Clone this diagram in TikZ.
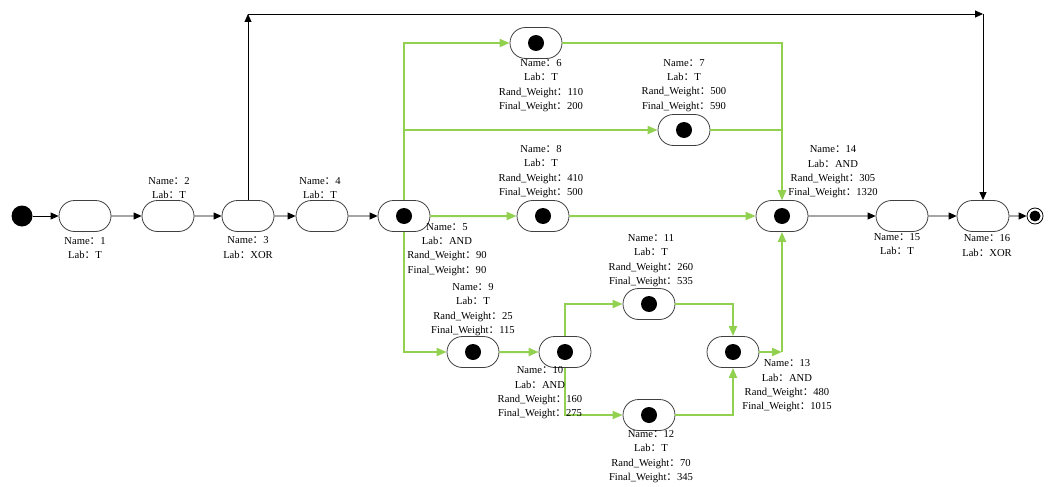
\documentclass[tikz,border=0pt]{standalone}
\usepackage{fontspec}
\setmainfont{Liberation Serif}
\newfontfamily\cjk{Noto Sans CJK SC}
\usetikzlibrary{shapes.misc,arrows.meta}
\newcommand\cc{{\cjk ：}}
\definecolor{lgreen}{RGB}{146,208,80}
\begin{document}
\begin{tikzpicture}[x=1pt,y=-1pt,
  pill/.style={rounded rectangle, draw=black!75, line width=0.8pt, minimum width=52pt, minimum height=31pt, inner sep=0pt, fill=white},
  dotpill/.style={pill, path picture={\fill[black] (path picture bounding box.center) circle (8pt);}},
  lbl/.style={font=\fontsize{10.6}{14.3}\selectfont, align=center, inner sep=0pt},
  blk/.style={-{Triangle[length=8pt,width=7pt]}, line width=0.8pt, draw=black},
  grn/.style={-{Triangle[length=10pt,width=8pt]}, line width=2pt, draw=lgreen}]
\useasboundingbox (0,0) rectangle (1057,487);
% nodes
\node[circle, fill=black, minimum size=21pt, inner sep=0pt] (s) at (22,216) {};
\node[pill] (n1) at (85,216) {};
\node[pill] (n2) at (168,216) {};
\node[pill] (n3) at (248,216) {};
\node[pill] (n4) at (322,216) {};
\node[dotpill] (n5) at (404,216) {};
\node[dotpill] (n6) at (536,43) {};
\node[dotpill] (n7) at (684,130) {};
\node[dotpill] (n8) at (543,216) {};
\node[dotpill] (n9) at (473,352) {};
\node[dotpill] (n10) at (565,352) {};
\node[dotpill] (n11) at (649,304) {};
\node[dotpill] (n12) at (649,415) {};
\node[dotpill] (n13) at (733,352) {};
\node[dotpill] (n14) at (782,216) {};
\node[pill] (n15) at (902,216) {};
\node[pill] (n16) at (983,216) {};
\node[circle, draw=black, line width=0.8pt, minimum size=16pt, inner sep=0pt,
  path picture={\fill[black] (path picture bounding box.center) circle (5.5pt);}] (e) at (1035,216) {};
% black connectors
\draw[blk] (s) -- (n1);
\draw[blk] (n1) -- (n2);
\draw[blk] (n2) -- (n3);
\draw[blk] (n3) -- (n4);
\draw[blk] (n4) -- (n5);
\coordinate (c1) at (248,14);
\coordinate (c2) at (983,14);
\draw[blk] (n3.north) -- (c1);
\draw[blk] (c1) -- (c2);
\draw[blk] (c2) -- (n16.north);
\draw[blk] (n14) -- (n15);
\draw[blk] (n15) -- (n16);
\draw[blk] (n16) -- (e);
% green connectors
\draw[grn] (n5) -- (n8);
\draw[grn] (n5.north) |- (n6.west);
\draw[grn] (n5.north) |- (n7.west);
\draw[grn] (n6.east) -| (n14.north);
\draw[grn] (n7.east) -| (n14.north);
\draw[grn] (n8) -- (n14);
\draw[grn] (n5.south) |- (n9.west);
\draw[grn] (n9) -- (n10);
\draw[grn] (n10.north) |- (n11.west);
\draw[grn] (n10.south) |- (n12.west);
\draw[grn] (n11.east) -| (n13.north);
\draw[grn] (n12.east) -| (n13.south);
\coordinate (c3) at (782,352);
\draw[grn] (n13.east) -- (c3);
\draw[grn] (c3) -- (n14.south);
% labels
\node[lbl] (l1) at (85,248) {Name\cc 1\\Lab\cc T};
\node[lbl] (l2) at (169,188) {Name\cc 2\\Lab\cc T};
\node[lbl] (l3) at (248,247.5) {Name\cc 3\\Lab\cc XOR};
\node[lbl] (l4) at (320,188) {Name\cc 4\\Lab\cc T};
\node[lbl] (l5) at (447,249.5) {Name\cc 5\\Lab\cc AND\\Rand\_Weight\cc 90\\Final\_Weight\cc 90};
\node[lbl] (l6) at (541,85.5) {Name\cc 6\\Lab\cc T\\Rand\_Weight\cc 110\\Final\_Weight\cc 200};
\node[lbl] (l7) at (684,85.5) {Name\cc 7\\Lab\cc T\\Rand\_Weight\cc 500\\Final\_Weight\cc 590};
\node[lbl] (l8) at (541,171.5) {Name\cc 8\\Lab\cc T\\Rand\_Weight\cc 410\\Final\_Weight\cc 500};
\node[lbl] (l9) at (473,309.5) {Name\cc 9\\Lab\cc T\\Rand\_Weight\cc 25\\Final\_Weight\cc 115};
\node[lbl] (l10) at (540,393) {Name\cc 10\\Lab\cc AND\\Rand\_Weight\cc 160\\Final\_Weight\cc 275};
\node[lbl] (l11) at (651,260.5) {Name\cc 11\\Lab\cc T\\Rand\_Weight\cc 260\\Final\_Weight\cc 535};
\node[lbl] (l12) at (651,456.5) {Name\cc 12\\Lab\cc T\\Rand\_Weight\cc 70\\Final\_Weight\cc 345};
\node[lbl] (l13) at (787,386) {Name\cc 13\\Lab\cc AND\\Rand\_Weight\cc 480\\Final\_Weight\cc 1015};
\node[lbl] (l14) at (833,172) {Name\cc 14\\Lab\cc AND\\Rand\_Weight\cc 305\\Final\_Weight\cc 1320};
\node[lbl] (l15) at (897,244) {Name\cc 15\\Lab\cc T};
\node[lbl] (l16) at (987,245.5) {Name\cc 16\\Lab\cc XOR};
\end{tikzpicture}
\end{document}
